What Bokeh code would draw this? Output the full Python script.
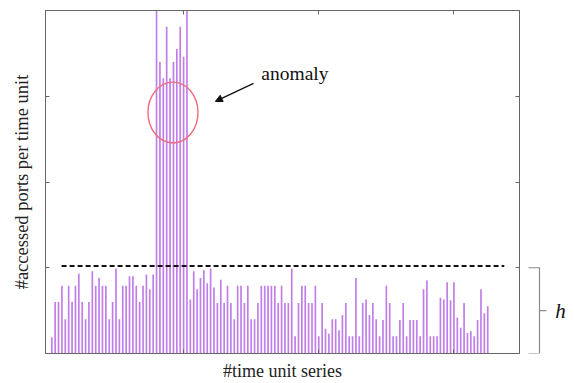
from bokeh.plotting import figure
from bokeh.layouts import row
from bokeh.models import (Range1d, FixedTicker, Label, Arrow, NormalHead,
                          LinearAxis, CustomJSTickFormatter)
from bokeh.embed import file_html
from bokeh.resources import INLINE

# accessed ports per time unit (in units of the y axis), one per time unit
heights = [0.19, 0.60, 0.60, 0.79, 0.40, 0.79, 0.60, 0.79, 0.93, 0.60,
           0.40, 0.60, 0.96, 0.79, 0.88, 0.79, 0.79, 0.40, 0.60, 0.99,
           0.40, 0.79, 0.79, 0.90, 0.90, 0.79, 0.60, 0.79, 0.92, 0.75,
           0.92,
           4.30, 3.40, 3.21, 3.81, 3.21, 3.40, 3.55, 3.81, 3.46, 4.30,
           0.63, 0.96, 0.75, 0.88, 0.97, 0.82, 0.99, 0.77, 0.59, 0.86,
           0.59, 0.79, 0.59, 0.40, 0.79, 0.79, 0.59, 0.79, 0.40, 0.40,
           0.59, 0.79, 0.79, 0.79, 0.79, 0.79, 0.59, 0.79, 0.59, 0.59,
           0.99, 0.20, 0.59, 0.79, 0.79, 0.59, 0.59, 0.79, 0.20, 0.59,
           0.29, 0.23, 0.40, 0.40, 0.27, 0.45, 0.59, 0.20, 0.20, 0.88,
           0.20, 0.59, 0.63, 0.45, 0.59, 0.40, 0.20, 0.39, 0.79, 0.59,
           0.20, 0.20, 0.39, 0.59, 0.20, 0.39, 0.39, 0.39, 0.20, 0.75,
           0.85, 0.20, 0.20, 0.20, 0.65, 0.63, 0.83, 0.62, 0.83, 0.42,
           0.30, 0.59, 0.24, 0.26, 0.20, 0.39, 0.75, 0.47, 0.55]
time_units = list(range(1, len(heights) + 1))
threshold = 1.02
y_ticks = [1, 2, 3]
x_ticks = [40, 80, 120]

SERIF = "Liberation Serif"
BAR = "#c07ee8"

p = figure(width=522, height=383, output_backend="svg", toolbar_location=None,
           x_range=Range1d(-0.86, 139.4), y_range=Range1d(0, 4),
           min_border_left=45, min_border_right=3, min_border_top=10,
           min_border_bottom=29)
p.add_layout(LinearAxis(), "above")
p.add_layout(LinearAxis(), "right")
p.grid.visible = False
p.outline_line_color = "#777777"

blank = CustomJSTickFormatter(code="return ''")
for ax in p.above + p.below:
    ax.ticker = FixedTicker(ticks=x_ticks)
for ax in p.left + p.right:
    ax.ticker = FixedTicker(ticks=y_ticks)
for ax in p.above + p.below + p.left + p.right:
    ax.formatter = blank
    ax.major_label_standoff = 0
    ax.major_tick_in = 4
    ax.major_tick_out = 0
    ax.minor_tick_line_color = None
    ax.axis_line_color = "#666666"
    ax.major_tick_line_color = "#666666"

xb = p.below[0]
xb.axis_label = "#time unit series"
xb.axis_label_text_font = SERIF
xb.axis_label_text_font_style = "normal"
xb.axis_label_text_font_size = "18px"
xb.axis_label_text_color = "#222222"
xb.axis_label_standoff = 7

yl = p.left[0]
yl.axis_label = "#accessed ports per time unit"
yl.axis_label_text_font = SERIF
yl.axis_label_text_font_style = "normal"
yl.axis_label_text_font_size = "18.5px"
yl.axis_label_text_color = "#222222"
yl.axis_label_standoff = 14

p.vbar(x=time_units, top=heights, bottom=0, width=0.5,
       fill_color=BAR, line_color=None)

# threshold h
p.segment(x0=time_units[0] + 2.9, x1=time_units[-1] + 4.9,
          y0=threshold, y1=threshold, line_color="#111111",
          line_width=2, line_dash="5 3")

# anomaly annotation
p.ellipse(x=36.86, y=2.81, width=14.8, height=0.71, fill_color=None,
          line_color="#ef6c7c", line_width=1.4)
p.add_layout(Arrow(end=NormalHead(size=7, fill_color="#111111", line_color="#111111"),
                   x_start=60.7, y_start=3.15, x_end=49.4, y_end=2.94,
                   line_color="#111111", line_width=1.3))
p.add_layout(Label(x=63.0, y=3.27, text="anomaly", text_font=SERIF,
                   text_font_size="19.5px", text_baseline="middle",
                   text_color="#111111"))

# side panel with the brace marking h (shares the y scale)
q = figure(width=52, height=383, output_backend="svg", toolbar_location=None,
           x_range=Range1d(0, 52), y_range=p.y_range,
           x_axis_type=None, y_axis_type=None,
           min_border_left=0, min_border_right=0, min_border_top=10,
           min_border_bottom=29)
q.grid.visible = False
q.outline_line_color = None
q.multi_line(xs=[[6, 17, 17, 6], [17, 24]], ys=[[1.0, 1.0, 0.0, 0.0], [0.5, 0.5]],
             line_color="#8a8a8a", line_width=1.2)
q.text(x=[38], y=[0.5], text=["h"], text_font_size="21px",
       text_font_style="italic", text_align="center", text_baseline="middle",
       text_color="#111111", text_font={"value": SERIF})

open("out.html", "w").write(file_html(row(p, q), INLINE))
